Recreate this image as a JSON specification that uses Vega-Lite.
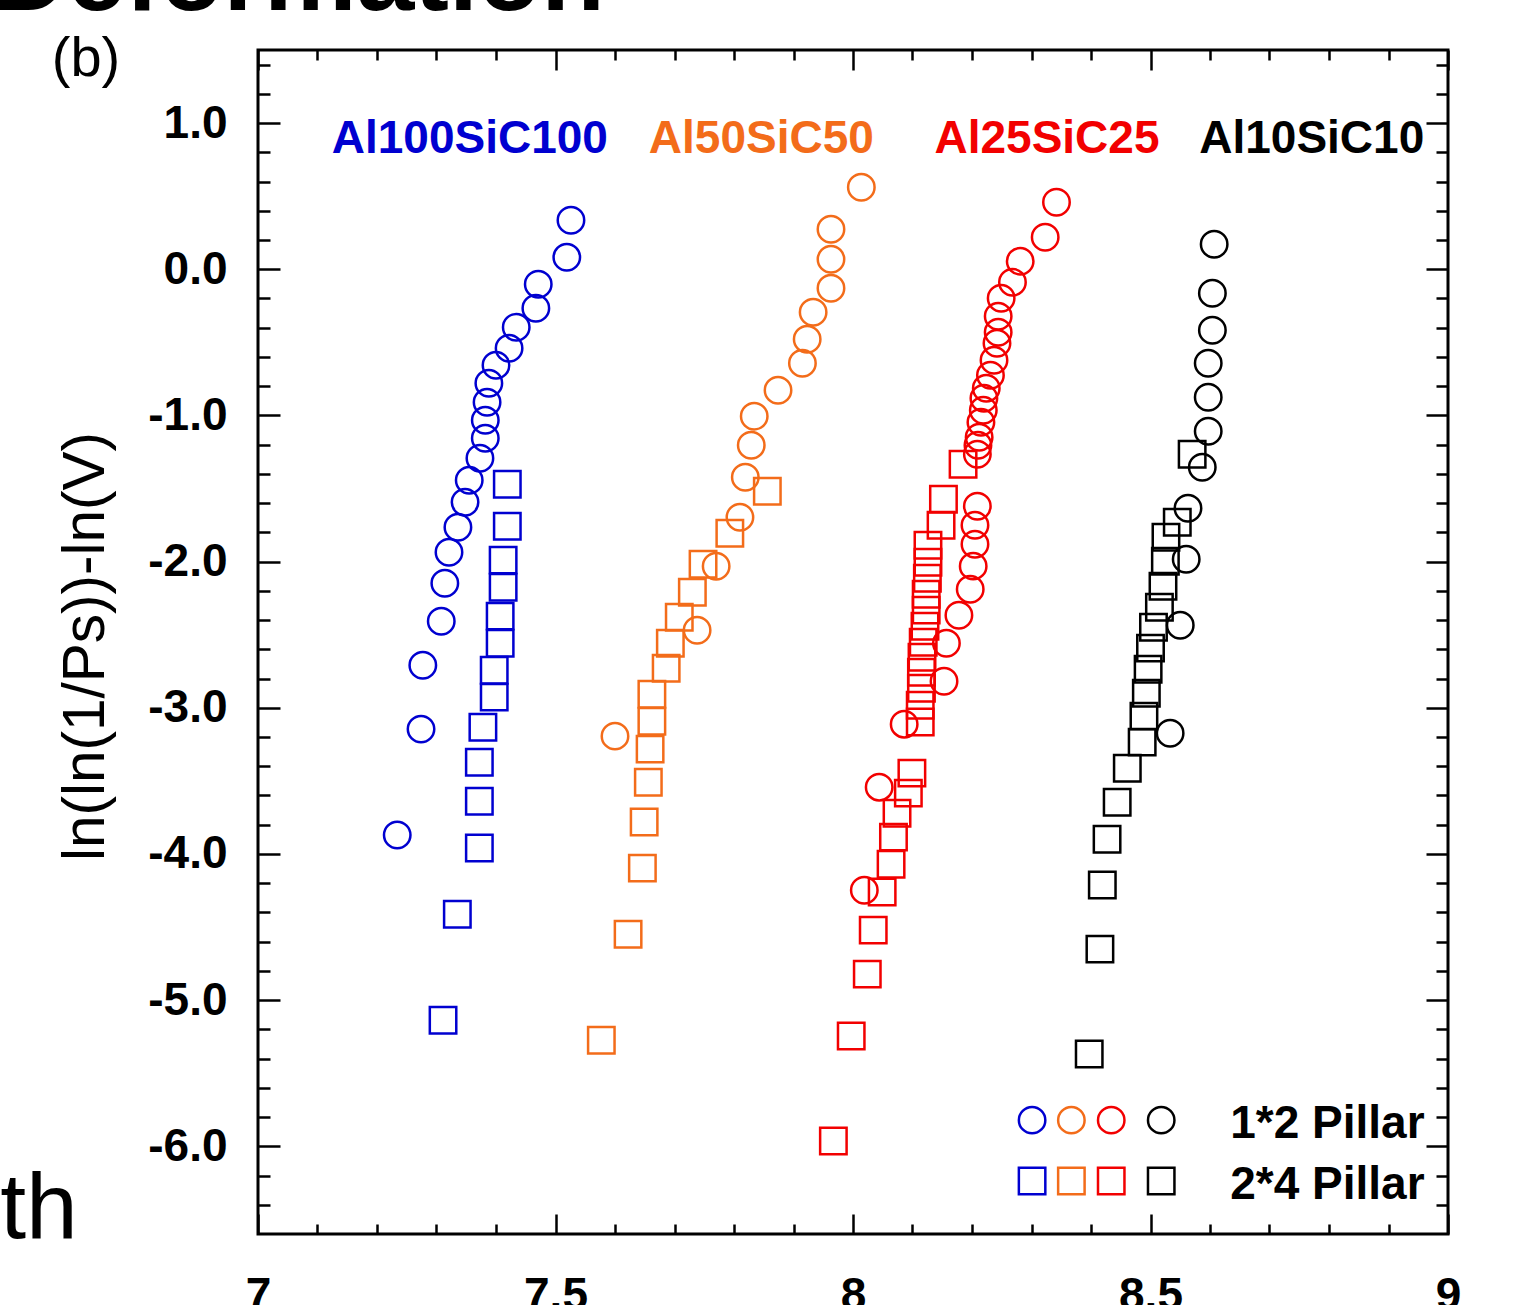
{
  "$schema": "https://vega.github.io/schema/vega-lite/v6.json",
  "width": 1190,
  "height": 1184,
  "autosize": {"type": "none"},
  "padding": {"left": 258, "top": 50, "right": 65, "bottom": 71},
  "background": "white",
  "config": {
    "font": "Liberation Sans",
    "view": {"stroke": "#000000", "strokeWidth": 3},
    "axis": {
      "labelFont": "Liberation Sans",
      "labelFontSize": 46,
      "labelFontWeight": "bold",
      "labelColor": "#000000",
      "tickColor": "#000000",
      "tickWidth": 2.5,
      "domain": false,
      "grid": false,
      "labelFlush": false,
      "labelOverlap": false,
      "titleFont": "Liberation Sans",
      "titleColor": "#000000"
    }
  },
  "datasets": {
    "points": [
      {"series": "Al100SiC100", "pillar": "1*2 Pillar", "x": 7.526, "y": 0.335},
      {"series": "Al100SiC100", "pillar": "1*2 Pillar", "x": 7.519, "y": 0.082},
      {"series": "Al100SiC100", "pillar": "1*2 Pillar", "x": 7.471, "y": -0.103},
      {"series": "Al100SiC100", "pillar": "1*2 Pillar", "x": 7.467, "y": -0.267},
      {"series": "Al100SiC100", "pillar": "1*2 Pillar", "x": 7.434, "y": -0.397},
      {"series": "Al100SiC100", "pillar": "1*2 Pillar", "x": 7.422, "y": -0.540},
      {"series": "Al100SiC100", "pillar": "1*2 Pillar", "x": 7.400, "y": -0.657},
      {"series": "Al100SiC100", "pillar": "1*2 Pillar", "x": 7.388, "y": -0.780},
      {"series": "Al100SiC100", "pillar": "1*2 Pillar", "x": 7.385, "y": -0.910},
      {"series": "Al100SiC100", "pillar": "1*2 Pillar", "x": 7.382, "y": -1.033},
      {"series": "Al100SiC100", "pillar": "1*2 Pillar", "x": 7.382, "y": -1.156},
      {"series": "Al100SiC100", "pillar": "1*2 Pillar", "x": 7.373, "y": -1.293},
      {"series": "Al100SiC100", "pillar": "1*2 Pillar", "x": 7.355, "y": -1.443},
      {"series": "Al100SiC100", "pillar": "1*2 Pillar", "x": 7.348, "y": -1.594},
      {"series": "Al100SiC100", "pillar": "1*2 Pillar", "x": 7.336, "y": -1.765},
      {"series": "Al100SiC100", "pillar": "1*2 Pillar", "x": 7.321, "y": -1.936},
      {"series": "Al100SiC100", "pillar": "1*2 Pillar", "x": 7.314, "y": -2.148},
      {"series": "Al100SiC100", "pillar": "1*2 Pillar", "x": 7.308, "y": -2.408},
      {"series": "Al100SiC100", "pillar": "1*2 Pillar", "x": 7.277, "y": -2.709},
      {"series": "Al100SiC100", "pillar": "1*2 Pillar", "x": 7.274, "y": -3.146},
      {"series": "Al100SiC100", "pillar": "1*2 Pillar", "x": 7.234, "y": -3.871},
      {"series": "Al100SiC100", "pillar": "2*4 Pillar", "x": 7.419, "y": -1.471},
      {"series": "Al100SiC100", "pillar": "2*4 Pillar", "x": 7.419, "y": -1.758},
      {"series": "Al100SiC100", "pillar": "2*4 Pillar", "x": 7.412, "y": -1.990},
      {"series": "Al100SiC100", "pillar": "2*4 Pillar", "x": 7.412, "y": -2.175},
      {"series": "Al100SiC100", "pillar": "2*4 Pillar", "x": 7.407, "y": -2.373},
      {"series": "Al100SiC100", "pillar": "2*4 Pillar", "x": 7.407, "y": -2.558},
      {"series": "Al100SiC100", "pillar": "2*4 Pillar", "x": 7.397, "y": -2.743},
      {"series": "Al100SiC100", "pillar": "2*4 Pillar", "x": 7.397, "y": -2.927},
      {"series": "Al100SiC100", "pillar": "2*4 Pillar", "x": 7.378, "y": -3.133},
      {"series": "Al100SiC100", "pillar": "2*4 Pillar", "x": 7.372, "y": -3.372},
      {"series": "Al100SiC100", "pillar": "2*4 Pillar", "x": 7.372, "y": -3.639},
      {"series": "Al100SiC100", "pillar": "2*4 Pillar", "x": 7.372, "y": -3.960},
      {"series": "Al100SiC100", "pillar": "2*4 Pillar", "x": 7.335, "y": -4.412},
      {"series": "Al100SiC100", "pillar": "2*4 Pillar", "x": 7.311, "y": -5.137},
      {"series": "Al50SiC50", "pillar": "1*2 Pillar", "x": 8.014, "y": 0.561},
      {"series": "Al50SiC50", "pillar": "1*2 Pillar", "x": 7.963, "y": 0.274},
      {"series": "Al50SiC50", "pillar": "1*2 Pillar", "x": 7.963, "y": 0.068},
      {"series": "Al50SiC50", "pillar": "1*2 Pillar", "x": 7.963, "y": -0.130},
      {"series": "Al50SiC50", "pillar": "1*2 Pillar", "x": 7.933, "y": -0.294},
      {"series": "Al50SiC50", "pillar": "1*2 Pillar", "x": 7.923, "y": -0.479},
      {"series": "Al50SiC50", "pillar": "1*2 Pillar", "x": 7.915, "y": -0.643},
      {"series": "Al50SiC50", "pillar": "1*2 Pillar", "x": 7.874, "y": -0.828},
      {"series": "Al50SiC50", "pillar": "1*2 Pillar", "x": 7.834, "y": -1.005},
      {"series": "Al50SiC50", "pillar": "1*2 Pillar", "x": 7.829, "y": -1.204},
      {"series": "Al50SiC50", "pillar": "1*2 Pillar", "x": 7.819, "y": -1.423},
      {"series": "Al50SiC50", "pillar": "1*2 Pillar", "x": 7.810, "y": -1.697},
      {"series": "Al50SiC50", "pillar": "1*2 Pillar", "x": 7.770, "y": -2.032},
      {"series": "Al50SiC50", "pillar": "1*2 Pillar", "x": 7.738, "y": -2.469},
      {"series": "Al50SiC50", "pillar": "1*2 Pillar", "x": 7.600, "y": -3.194},
      {"series": "Al50SiC50", "pillar": "2*4 Pillar", "x": 7.856, "y": -1.518},
      {"series": "Al50SiC50", "pillar": "2*4 Pillar", "x": 7.793, "y": -1.806},
      {"series": "Al50SiC50", "pillar": "2*4 Pillar", "x": 7.748, "y": -2.018},
      {"series": "Al50SiC50", "pillar": "2*4 Pillar", "x": 7.730, "y": -2.209},
      {"series": "Al50SiC50", "pillar": "2*4 Pillar", "x": 7.708, "y": -2.380},
      {"series": "Al50SiC50", "pillar": "2*4 Pillar", "x": 7.693, "y": -2.558},
      {"series": "Al50SiC50", "pillar": "2*4 Pillar", "x": 7.686, "y": -2.729},
      {"series": "Al50SiC50", "pillar": "2*4 Pillar", "x": 7.662, "y": -2.907},
      {"series": "Al50SiC50", "pillar": "2*4 Pillar", "x": 7.662, "y": -3.092},
      {"series": "Al50SiC50", "pillar": "2*4 Pillar", "x": 7.659, "y": -3.283},
      {"series": "Al50SiC50", "pillar": "2*4 Pillar", "x": 7.656, "y": -3.509},
      {"series": "Al50SiC50", "pillar": "2*4 Pillar", "x": 7.649, "y": -3.782},
      {"series": "Al50SiC50", "pillar": "2*4 Pillar", "x": 7.646, "y": -4.097},
      {"series": "Al50SiC50", "pillar": "2*4 Pillar", "x": 7.622, "y": -4.549},
      {"series": "Al50SiC50", "pillar": "2*4 Pillar", "x": 7.577, "y": -5.274},
      {"series": "Al25SiC25", "pillar": "1*2 Pillar", "x": 8.342, "y": 0.458},
      {"series": "Al25SiC25", "pillar": "1*2 Pillar", "x": 8.323, "y": 0.219},
      {"series": "Al25SiC25", "pillar": "1*2 Pillar", "x": 8.281, "y": 0.055},
      {"series": "Al25SiC25", "pillar": "1*2 Pillar", "x": 8.268, "y": -0.089},
      {"series": "Al25SiC25", "pillar": "1*2 Pillar", "x": 8.249, "y": -0.198},
      {"series": "Al25SiC25", "pillar": "1*2 Pillar", "x": 8.244, "y": -0.321},
      {"series": "Al25SiC25", "pillar": "1*2 Pillar", "x": 8.244, "y": -0.431},
      {"series": "Al25SiC25", "pillar": "1*2 Pillar", "x": 8.242, "y": -0.506},
      {"series": "Al25SiC25", "pillar": "1*2 Pillar", "x": 8.237, "y": -0.622},
      {"series": "Al25SiC25", "pillar": "1*2 Pillar", "x": 8.231, "y": -0.725},
      {"series": "Al25SiC25", "pillar": "1*2 Pillar", "x": 8.224, "y": -0.814},
      {"series": "Al25SiC25", "pillar": "1*2 Pillar", "x": 8.220, "y": -0.882},
      {"series": "Al25SiC25", "pillar": "1*2 Pillar", "x": 8.219, "y": -0.964},
      {"series": "Al25SiC25", "pillar": "1*2 Pillar", "x": 8.215, "y": -1.046},
      {"series": "Al25SiC25", "pillar": "1*2 Pillar", "x": 8.212, "y": -1.149},
      {"series": "Al25SiC25", "pillar": "1*2 Pillar", "x": 8.210, "y": -1.204},
      {"series": "Al25SiC25", "pillar": "1*2 Pillar", "x": 8.209, "y": -1.265},
      {"series": "Al25SiC25", "pillar": "1*2 Pillar", "x": 8.209, "y": -1.621},
      {"series": "Al25SiC25", "pillar": "1*2 Pillar", "x": 8.205, "y": -1.751},
      {"series": "Al25SiC25", "pillar": "1*2 Pillar", "x": 8.205, "y": -1.881},
      {"series": "Al25SiC25", "pillar": "1*2 Pillar", "x": 8.202, "y": -2.031},
      {"series": "Al25SiC25", "pillar": "1*2 Pillar", "x": 8.197, "y": -2.189},
      {"series": "Al25SiC25", "pillar": "1*2 Pillar", "x": 8.178, "y": -2.367},
      {"series": "Al25SiC25", "pillar": "1*2 Pillar", "x": 8.157, "y": -2.558},
      {"series": "Al25SiC25", "pillar": "1*2 Pillar", "x": 8.153, "y": -2.818},
      {"series": "Al25SiC25", "pillar": "1*2 Pillar", "x": 8.086, "y": -3.112},
      {"series": "Al25SiC25", "pillar": "1*2 Pillar", "x": 8.044, "y": -3.543},
      {"series": "Al25SiC25", "pillar": "1*2 Pillar", "x": 8.019, "y": -4.248},
      {"series": "Al25SiC25", "pillar": "2*4 Pillar", "x": 8.185, "y": -1.334},
      {"series": "Al25SiC25", "pillar": "2*4 Pillar", "x": 8.152, "y": -1.573},
      {"series": "Al25SiC25", "pillar": "2*4 Pillar", "x": 8.148, "y": -1.751},
      {"series": "Al25SiC25", "pillar": "2*4 Pillar", "x": 8.126, "y": -1.888},
      {"series": "Al25SiC25", "pillar": "2*4 Pillar", "x": 8.126, "y": -2.004},
      {"series": "Al25SiC25", "pillar": "2*4 Pillar", "x": 8.125, "y": -2.114},
      {"series": "Al25SiC25", "pillar": "2*4 Pillar", "x": 8.123, "y": -2.223},
      {"series": "Al25SiC25", "pillar": "2*4 Pillar", "x": 8.123, "y": -2.332},
      {"series": "Al25SiC25", "pillar": "2*4 Pillar", "x": 8.121, "y": -2.442},
      {"series": "Al25SiC25", "pillar": "2*4 Pillar", "x": 8.118, "y": -2.551},
      {"series": "Al25SiC25", "pillar": "2*4 Pillar", "x": 8.116, "y": -2.654},
      {"series": "Al25SiC25", "pillar": "2*4 Pillar", "x": 8.115, "y": -2.757},
      {"series": "Al25SiC25", "pillar": "2*4 Pillar", "x": 8.115, "y": -2.866},
      {"series": "Al25SiC25", "pillar": "2*4 Pillar", "x": 8.113, "y": -2.982},
      {"series": "Al25SiC25", "pillar": "2*4 Pillar", "x": 8.113, "y": -3.098},
      {"series": "Al25SiC25", "pillar": "2*4 Pillar", "x": 8.099, "y": -3.447},
      {"series": "Al25SiC25", "pillar": "2*4 Pillar", "x": 8.093, "y": -3.584},
      {"series": "Al25SiC25", "pillar": "2*4 Pillar", "x": 8.074, "y": -3.721},
      {"series": "Al25SiC25", "pillar": "2*4 Pillar", "x": 8.068, "y": -3.885},
      {"series": "Al25SiC25", "pillar": "2*4 Pillar", "x": 8.064, "y": -4.070},
      {"series": "Al25SiC25", "pillar": "2*4 Pillar", "x": 8.049, "y": -4.261},
      {"series": "Al25SiC25", "pillar": "2*4 Pillar", "x": 8.034, "y": -4.521},
      {"series": "Al25SiC25", "pillar": "2*4 Pillar", "x": 8.024, "y": -4.822},
      {"series": "Al25SiC25", "pillar": "2*4 Pillar", "x": 7.997, "y": -5.246},
      {"series": "Al25SiC25", "pillar": "2*4 Pillar", "x": 7.967, "y": -5.964},
      {"series": "Al10SiC10", "pillar": "1*2 Pillar", "x": 8.607, "y": 0.171},
      {"series": "Al10SiC10", "pillar": "1*2 Pillar", "x": 8.604, "y": -0.164},
      {"series": "Al10SiC10", "pillar": "1*2 Pillar", "x": 8.604, "y": -0.417},
      {"series": "Al10SiC10", "pillar": "1*2 Pillar", "x": 8.597, "y": -0.643},
      {"series": "Al10SiC10", "pillar": "1*2 Pillar", "x": 8.597, "y": -0.876},
      {"series": "Al10SiC10", "pillar": "1*2 Pillar", "x": 8.597, "y": -1.108},
      {"series": "Al10SiC10", "pillar": "1*2 Pillar", "x": 8.587, "y": -1.354},
      {"series": "Al10SiC10", "pillar": "1*2 Pillar", "x": 8.563, "y": -1.635},
      {"series": "Al10SiC10", "pillar": "1*2 Pillar", "x": 8.560, "y": -1.984},
      {"series": "Al10SiC10", "pillar": "1*2 Pillar", "x": 8.550, "y": -2.435},
      {"series": "Al10SiC10", "pillar": "1*2 Pillar", "x": 8.533, "y": -3.174},
      {"series": "Al10SiC10", "pillar": "2*4 Pillar", "x": 8.570, "y": -1.265},
      {"series": "Al10SiC10", "pillar": "2*4 Pillar", "x": 8.545, "y": -1.731},
      {"series": "Al10SiC10", "pillar": "2*4 Pillar", "x": 8.526, "y": -1.833},
      {"series": "Al10SiC10", "pillar": "2*4 Pillar", "x": 8.525, "y": -1.997},
      {"series": "Al10SiC10", "pillar": "2*4 Pillar", "x": 8.521, "y": -2.168},
      {"series": "Al10SiC10", "pillar": "2*4 Pillar", "x": 8.515, "y": -2.312},
      {"series": "Al10SiC10", "pillar": "2*4 Pillar", "x": 8.505, "y": -2.449},
      {"series": "Al10SiC10", "pillar": "2*4 Pillar", "x": 8.500, "y": -2.592},
      {"series": "Al10SiC10", "pillar": "2*4 Pillar", "x": 8.496, "y": -2.736},
      {"series": "Al10SiC10", "pillar": "2*4 Pillar", "x": 8.493, "y": -2.900},
      {"series": "Al10SiC10", "pillar": "2*4 Pillar", "x": 8.489, "y": -3.057},
      {"series": "Al10SiC10", "pillar": "2*4 Pillar", "x": 8.486, "y": -3.235},
      {"series": "Al10SiC10", "pillar": "2*4 Pillar", "x": 8.461, "y": -3.413},
      {"series": "Al10SiC10", "pillar": "2*4 Pillar", "x": 8.444, "y": -3.646},
      {"series": "Al10SiC10", "pillar": "2*4 Pillar", "x": 8.427, "y": -3.899},
      {"series": "Al10SiC10", "pillar": "2*4 Pillar", "x": 8.419, "y": -4.213},
      {"series": "Al10SiC10", "pillar": "2*4 Pillar", "x": 8.415, "y": -4.651},
      {"series": "Al10SiC10", "pillar": "2*4 Pillar", "x": 8.397, "y": -5.369}
    ],
    "seriesLabels": [
      {"series": "Al100SiC100", "x": 7.356, "y": 0.793},
      {"series": "Al50SiC50", "x": 7.846, "y": 0.793},
      {"series": "Al25SiC25", "x": 8.326, "y": 0.793},
      {"series": "Al10SiC10", "x": 8.771, "y": 0.793}
    ],
    "legendSymbols": [
      {"series": "Al100SiC100", "pillar": "1*2 Pillar", "x": 8.301, "y": -5.821},
      {"series": "Al50SiC50", "pillar": "1*2 Pillar", "x": 8.367, "y": -5.821},
      {"series": "Al25SiC25", "pillar": "1*2 Pillar", "x": 8.434, "y": -5.821},
      {"series": "Al10SiC10", "pillar": "1*2 Pillar", "x": 8.518, "y": -5.821},
      {"series": "Al100SiC100", "pillar": "2*4 Pillar", "x": 8.301, "y": -6.238},
      {"series": "Al50SiC50", "pillar": "2*4 Pillar", "x": 8.367, "y": -6.238},
      {"series": "Al25SiC25", "pillar": "2*4 Pillar", "x": 8.434, "y": -6.238},
      {"series": "Al10SiC10", "pillar": "2*4 Pillar", "x": 8.518, "y": -6.238}
    ],
    "legendLabels": [
      {"label": "1*2 Pillar", "x": 8.634, "y": -5.944},
      {"label": "2*4 Pillar", "x": 8.634, "y": -6.361}
    ]
  },
  "resolve": {"axis": {"x": "independent", "y": "independent"}},
  "layer": [
    {
      "data": {"name": "points"},
      "mark": {"type": "point", "filled": false, "strokeWidth": 2.5, "size": 700, "opacity": 1},
      "encoding": {
        "x": {
          "field": "x", "type": "quantitative",
          "scale": {"domain": [7, 9], "nice": false, "zero": false},
          "axis": {"orient": "bottom", "values": [7, 7.5, 8, 8.5, 9], "tickSize": -20, "labelPadding": 59, "labelBaseline": "top", "labelExpr": "toString(datum.value)", "title": null}
        },
        "y": {
          "field": "y", "type": "quantitative",
          "scale": {"domain": [-6.6, 1.5], "nice": false, "zero": false},
          "axis": {
            "orient": "left", "values": [-6, -5, -4, -3, -2, -1, 0, 1], "tickSize": -22, "labelPadding": 53,
            "labelExpr": "(datum.value < 0 ? '-' : '') + format(abs(datum.value), '.1f')",
            "title": "ln(ln(1/Ps))-ln(V)", "titleFontSize": 58.5, "titleFontWeight": "normal",
            "titleX": -155, "titleY": 596, "titleBaseline": "alphabetic", "titleAngle": -90, "titleAlign": "center"
          }
        },
        "color": {
          "field": "series", "type": "nominal",
          "scale": {"domain": ["Al100SiC100", "Al50SiC50", "Al25SiC25", "Al10SiC10"], "range": ["#0000d0", "#f36c1a", "#f20000", "#000000"]},
          "legend": null
        },
        "shape": {
          "field": "pillar", "type": "nominal",
          "scale": {"domain": ["1*2 Pillar", "2*4 Pillar"], "range": ["circle", "square"]},
          "legend": null
        }
      }
    },
    {
      "data": {"name": "seriesLabels"},
      "mark": {"type": "text", "font": "Liberation Sans", "fontSize": 46, "fontWeight": "bold", "align": "center", "baseline": "alphabetic"},
      "encoding": {
        "x": {
          "field": "x", "type": "quantitative",
          "scale": {"domain": [7, 9], "nice": false, "zero": false},
          "axis": {"orient": "top", "values": [7, 7.5, 8, 8.5, 9], "tickSize": -20, "labels": false, "title": null}
        },
        "y": {
          "field": "y", "type": "quantitative",
          "scale": {"domain": [-6.6, 1.5], "nice": false, "zero": false},
          "axis": {"orient": "right", "values": [-6, -5, -4, -3, -2, -1, 0, 1], "tickSize": -22, "labels": false, "title": null}
        },
        "text": {"field": "series", "type": "nominal"},
        "color": {
          "field": "series", "type": "nominal",
          "scale": {"domain": ["Al100SiC100", "Al50SiC50", "Al25SiC25", "Al10SiC10"], "range": ["#0000d0", "#f36c1a", "#f20000", "#000000"]},
          "legend": null
        }
      }
    },
    {
      "data": {"name": "legendSymbols"},
      "mark": {"type": "point", "filled": false, "strokeWidth": 2.5, "size": 700, "opacity": 1},
      "encoding": {
        "x": {
          "field": "x", "type": "quantitative",
          "scale": {"domain": [7, 9], "nice": false, "zero": false},
          "axis": {"orient": "bottom", "values": [7.1, 7.2, 7.3, 7.4, 7.6, 7.7, 7.8, 7.9, 8.1, 8.2, 8.3, 8.4, 8.6, 8.7, 8.8, 8.9], "tickSize": -10, "labels": false, "title": null}
        },
        "y": {
          "field": "y", "type": "quantitative",
          "scale": {"domain": [-6.6, 1.5], "nice": false, "zero": false},
          "axis": {"orient": "left", "values": [-6.4, -6.2, -5.8, -5.6, -5.4, -5.2, -4.8, -4.6, -4.4, -4.2, -3.8, -3.6, -3.4, -3.2, -2.8, -2.6, -2.4, -2.2, -1.8, -1.6, -1.4, -1.2, -0.8, -0.6, -0.4, -0.2, 0.2, 0.4, 0.6, 0.8, 1.2, 1.4], "tickSize": -12, "labels": false, "title": null}
        },
        "color": {
          "field": "series", "type": "nominal",
          "scale": {"domain": ["Al100SiC100", "Al50SiC50", "Al25SiC25", "Al10SiC10"], "range": ["#0000d0", "#f36c1a", "#f20000", "#000000"]},
          "legend": null
        },
        "shape": {
          "field": "pillar", "type": "nominal",
          "scale": {"domain": ["1*2 Pillar", "2*4 Pillar"], "range": ["circle", "square"]},
          "legend": null
        }
      }
    },
    {
      "data": {"name": "legendLabels"},
      "mark": {"type": "text", "font": "Liberation Sans", "fontSize": 46, "fontWeight": "bold", "align": "left", "baseline": "alphabetic", "color": "#000000"},
      "encoding": {
        "x": {
          "field": "x", "type": "quantitative",
          "scale": {"domain": [7, 9], "nice": false, "zero": false},
          "axis": {"orient": "top", "values": [7.1, 7.2, 7.3, 7.4, 7.6, 7.7, 7.8, 7.9, 8.1, 8.2, 8.3, 8.4, 8.6, 8.7, 8.8, 8.9], "tickSize": -10, "labels": false, "title": null}
        },
        "y": {
          "field": "y", "type": "quantitative",
          "scale": {"domain": [-6.6, 1.5], "nice": false, "zero": false},
          "axis": {"orient": "right", "values": [-6.4, -6.2, -5.8, -5.6, -5.4, -5.2, -4.8, -4.6, -4.4, -4.2, -3.8, -3.6, -3.4, -3.2, -2.8, -2.6, -2.4, -2.2, -1.8, -1.6, -1.4, -1.2, -0.8, -0.6, -0.4, -0.2, 0.2, 0.4, 0.6, 0.8, 1.2, 1.4], "tickSize": -12, "labels": false, "title": null}
        },
        "text": {"field": "label", "type": "nominal"}
      }
    },
    {
      "data": {"values": [{"label": "(b)", "x": 6.711, "y": 1.436}]},
      "mark": {"type": "text", "font": "Liberation Sans", "fontSize": 56, "fontWeight": "normal", "align": "center", "baseline": "middle", "color": "#000000"},
      "encoding": {
        "x": {"field": "x", "type": "quantitative", "scale": {"domain": [7, 9], "nice": false, "zero": false}, "axis": null},
        "y": {"field": "y", "type": "quantitative", "scale": {"domain": [-6.6, 1.5], "nice": false, "zero": false}, "axis": null},
        "text": {"field": "label", "type": "nominal"}
      }
    },
    {
      "data": {"values": [{"label": "Deformation", "x": 7.583, "y": 1.772}]},
      "mark": {"type": "text", "font": "Liberation Sans", "fontSize": 104, "fontWeight": "bold", "align": "right", "baseline": "alphabetic", "color": "#000000"},
      "encoding": {
        "x": {"field": "x", "type": "quantitative", "scale": {"domain": [7, 9], "nice": false, "zero": false}, "axis": null},
        "y": {"field": "y", "type": "quantitative", "scale": {"domain": [-6.6, 1.5], "nice": false, "zero": false}, "axis": null},
        "text": {"field": "label", "type": "nominal"}
      }
    },
    {
      "data": {"values": [{"label": "th", "x": 6.697, "y": -6.628}]},
      "mark": {"type": "text", "font": "Liberation Sans", "fontSize": 93, "fontWeight": "normal", "align": "right", "baseline": "alphabetic", "color": "#000000"},
      "encoding": {
        "x": {"field": "x", "type": "quantitative", "scale": {"domain": [7, 9], "nice": false, "zero": false}, "axis": null},
        "y": {"field": "y", "type": "quantitative", "scale": {"domain": [-6.6, 1.5], "nice": false, "zero": false}, "axis": null},
        "text": {"field": "label", "type": "nominal"}
      }
    }
  ]
}
